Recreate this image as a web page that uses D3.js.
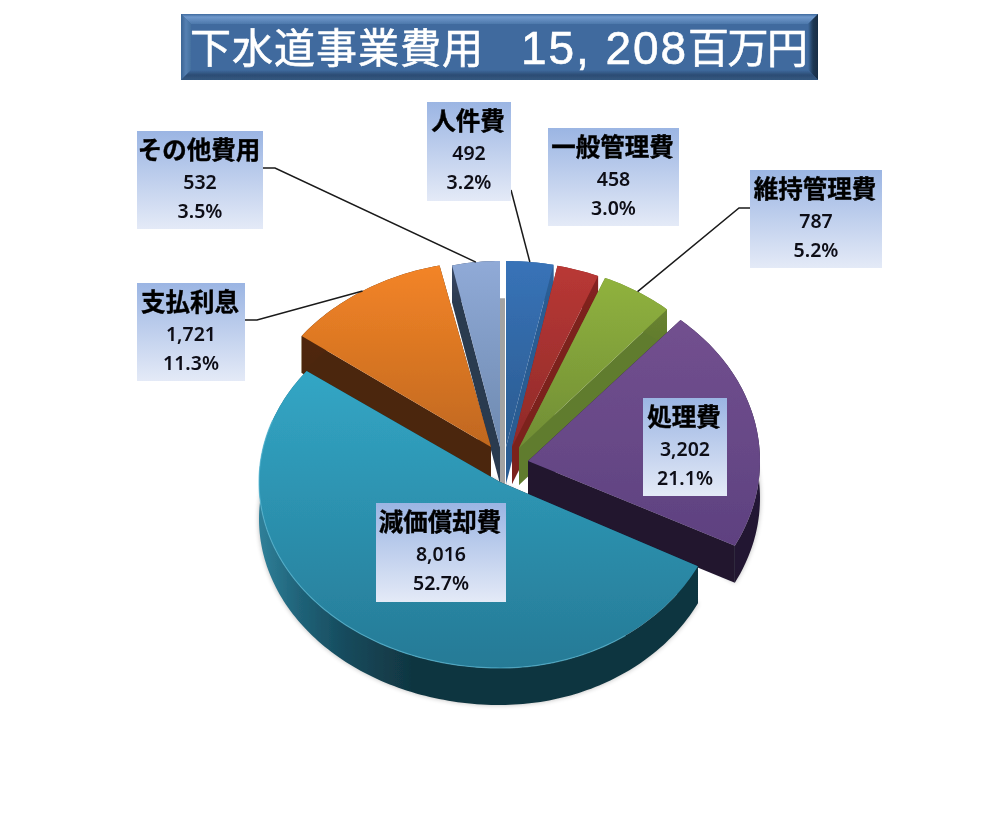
<!DOCTYPE html>
<html>
<head>
<meta charset="utf-8">
<title>下水道事業費用</title>
<script src="https://cdn.jsdelivr.net/npm/d3@7"></script>
<style>
  html, body { margin: 0; padding: 0; background: #fff; }
  svg { display: block; }
</style>
</head>
<body>
<div id="chart"></div>
<script>
// data, clockwise from 12 o'clock
var categories = ["人件費", "一般管理費", "維持管理費", "処理費", "減価償却費", "支払利息", "その他費用"];
var values = [492, 458, 787, 3202, 8016, 1721, 532];
var titleParts = ["下水道事業費用", "15, 208", "百万円"];

// layout, same order as categories
var sliceGeom = [
  { ax: 506, ay: 447, rl: 235, rr: 235, ry: 186 },
  { ax: 512, ay: 447, rl: 225, rr: 225, ry: 185 },
  { ax: 519, ay: 448, rl: 225, rr: 225, ry: 184 },
  { ax: 528, ay: 461, rl: 232, rr: 232, ry: 187 },
  { ax: 500, ay: 482, rl: 241, rr: 222, ry: 186 },
  { ax: 491, ay: 447, rl: 236, rr: 236, ry: 186 },
  { ax: 500, ay: 447, rl: 220, rr: 220, ry: 186 }
];
var labelBoxes = [
  { x: 427, y: 102, w: 84, h: 99 },
  { x: 548, y: 128, w: 131, h: 98 },
  { x: 750, y: 170, w: 132, h: 98 },
  { x: 643, y: 398, w: 84, h: 98 },
  { x: 376, y: 503, w: 130, h: 99 },
  { x: 137, y: 283, w: 108, h: 98 },
  { x: 137, y: 131, w: 126, h: 98 }
];
// leader start points at the box, null when the slice has no leader
var leaders = [
  [[511, 190]],
  null,
  [[750, 208], [739, 208]],
  null,
  null,
  [[245, 320], [257, 320]],
  [[263, 168], [275, 168]]
];
var topColors = [
  ["#3873b8", "#2a5b90"], ["#b93835", "#8f2a29"], ["#90b23e", "#708d35"], ["#72508f", "#5e4180"],
  ["#32a6c5", "#267a96"], ["#f38427", "#c0681f"], ["#90aad7", "#6e8ab0"]
];
var wallColors = [
  ["#2f639e", "#2a5c92"], ["#8a2422", "#7c201e"], ["#6f8a32", "#617b2e"], ["#2a1c40", "#20152f"],
  ["#2f8099", "#0e2f3a"], ["#5a2c0f", "#4c260b"], ["#3b4c69", "#2c3a50"]
];
var wallDepth = 37;

var svgWidth = 1000, svgHeight = 821;
var svg = d3.select("#chart").append("svg")
  .attr("width", svgWidth)
  .attr("height", svgHeight);
var defs = svg.append("defs");

defs.append("filter").attr("id", "soft")
  .append("feGaussianBlur").attr("stdDeviation", 0.45);
defs.append("filter").attr("id", "softText")
  .append("feGaussianBlur").attr("stdDeviation", 0.3);
var glow = defs.append("filter").attr("id", "shadow")
  .attr("x", "-5%").attr("y", "-5%").attr("width", "110%").attr("height", "110%");
glow.append("feGaussianBlur").attr("stdDeviation", 2.5);

function gradient(id, stops, x1, y1, x2, y2) {
  var g = defs.append("linearGradient").attr("id", id)
    .attr("x1", x1).attr("y1", y1).attr("x2", x2).attr("y2", y2);
  stops.forEach(function(s) {
    g.append("stop").attr("offset", s[0]).attr("stop-color", s[1]);
  });
}

topColors.forEach(function(c, i) {
  gradient("top" + i, [[0, c[0]], [1, c[1]]], 0, 0, 0, 1);
});
wallColors.forEach(function(c, i) {
  gradient("wall" + i, [[0, c[0]], [1, c[1]]], 0, 0, 0, 1);
});
// the big slice's rim gets its own shading, light on the left and dark by the middle
gradient("wallBig", [[0, "#2f8099"], [0.09, "#206379"], [0.2, "#164a5c"], [0.36, "#10343f"], [1, "#10343f"]], 0, 0, 1, 0);
gradient("boxFill", [[0, "#9bb5e3"], [1, "#e4eaf7"]], 0, 0, 0, 1);
gradient("bevelTop", [[0, "#3f6a9e"], [0.3, "#7099cc"], [1, "#4d78ab"]], 0, 0, 0, 1);
gradient("bevelBottom", [[0, "#3f6a9e"], [0.5, "#2c4c74"], [1, "#34577f"]], 0, 0, 0, 1);
gradient("bevelLeft", [[0, "#3a6494"], [0.5, "#5580b2"], [1, "#44709f"]], 0, 0, 1, 0);
gradient("bevelRight", [[0, "#3f6a9e"], [0.5, "#1f3855"], [1, "#182c44"]], 0, 0, 1, 0);

// title banner
var banner = { x: 181, y: 14, w: 637, h: 66, b: 10 };
var titleG = svg.append("g").attr("filter", "url(#soft)");
titleG.append("rect")
  .attr("x", banner.x).attr("y", banner.y)
  .attr("width", banner.w).attr("height", banner.h)
  .attr("fill", "#3f6a9e");
function bevel(points, fill) {
  titleG.append("polygon").attr("points", points.join(" ")).attr("fill", fill);
}
var bx0 = banner.x, bx1 = banner.x + banner.w, by0 = banner.y, by1 = banner.y + banner.h, bb = banner.b;
bevel([[bx0, by0], [bx1, by0], [bx1 - bb, by0 + bb], [bx0 + bb, by0 + bb]], "url(#bevelTop)");
bevel([[bx0, by0], [bx0 + bb, by0 + bb], [bx0 + bb, by1 - bb], [bx0, by1]], "url(#bevelLeft)");
bevel([[bx1 - bb, by0 + bb], [bx1, by0], [bx1, by1], [bx1 - bb, by1 - bb]], "url(#bevelRight)");
bevel([[bx0 + bb, by1 - bb], [bx1 - bb, by1 - bb], [bx1, by1], [bx0, by1]], "url(#bevelBottom)");

var titleLayout = [
  { x: 190, len: 293, font: "'Noto Sans CJK JP'", size: 41 },
  { x: 521, len: 165, font: "'Liberation Sans'", size: 46 },
  { x: 688, len: 120, font: "'Noto Sans CJK JP'", size: 41 }
];
titleG.selectAll("text.title")
  .data(titleParts)
  .enter().append("text")
  .attr("class", "title")
  .attr("x", function(d, i) { return titleLayout[i].x; })
  .attr("y", function(d, i) { return i === 1 ? 64 : 63; })
  .attr("textLength", function(d, i) { return titleLayout[i].len; })
  .style("font-family", function(d, i) { return titleLayout[i].font; })
  .style("font-size", function(d, i) { return titleLayout[i].size + "px"; })
  .attr("fill", "#fff")
  .attr("stroke", "#fff")
  .attr("stroke-width", 0.6)
  .text(function(d) { return d; });

// pie angles from the data
var pie = d3.pie().sort(null).value(function(d) { return d; });
var arcs = pie(values);

function project(i, angle, k) {
  var g = sliceGeom[i], s = Math.sin(angle);
  if (k === undefined) k = 1;
  return [g.ax + k * (s < 0 ? g.rl : g.rr) * s, g.ay - k * g.ry * Math.cos(angle)];
}
function arcPoints(i, a0, a1) {
  var n = Math.max(2, Math.ceil((a1 - a0) / 0.02));
  return d3.range(n + 1).map(function(j) {
    return project(i, a0 + (a1 - a0) * j / n);
  });
}
function drop(pts) {
  return pts.map(function(p) { return [p[0], p[1] + wallDepth]; });
}
var line = d3.line();
function closed(pts) { return line(pts) + "Z"; }
function apex(i) { return [sliceGeom[i].ax, sliceGeom[i].ay]; }

// back slices first, big slice last
var drawOrder = [6, 0, 1, 2, 5, 3, 4];
var pieG = svg.append("g").attr("filter", "url(#soft)");

// faint shadow under the rims
var bigArc = arcs[4];
pieG.append("path")
  .attr("d", closed(drop(arcPoints(4, bigArc.startAngle, bigArc.endAngle)).concat([apex(4)])))
  .attr("fill", "#000").attr("opacity", 0.28).attr("filter", "url(#shadow)");
var purpleArc = arcs[3];
pieG.append("path")
  .attr("d", closed(drop(arcPoints(3, purpleArc.startAngle, purpleArc.endAngle)).concat([apex(3)])))
  .attr("fill", "#000").attr("opacity", 0.28).attr("filter", "url(#shadow)");

drawOrder.forEach(function(i) {
  var a = arcs[i];
  var pts = arcPoints(i, a.startAngle, a.endAngle);
  var first = pts[0], last = pts[pts.length - 1], c = apex(i);
  var wallFill = i === 4 ? "url(#wallBig)" : "url(#wall" + i + ")";

  // side walls
  [first, last].forEach(function(p) {
    pieG.append("path")
      .attr("d", closed([c, p].concat(drop([p, c]))))
      .attr("fill", wallColors[i][1]);
  });
  // rim
  pieG.append("path")
    .attr("d", closed(pts.concat(drop(pts).reverse())))
    .attr("fill", wallFill);
  // top face
  pieG.append("path")
    .attr("class", "slice")
    .attr("d", closed([c].concat(pts)))
    .attr("fill", "url(#top" + i + ")");
  // grey sliver right of the small left slice
  if (i === 6) {
    var t = project(6, a.endAngle, 0.8);
    pieG.append("path")
      .attr("d", closed([t, [t[0] + 5, t[1]], [c[0] + 5, c[1] + wallDepth], [c[0], c[1] + wallDepth]]))
      .attr("fill", "#a3a3a3");
  }
});

// light edge along the big slice's rim
pieG.append("path")
  .attr("d", line(arcPoints(4, bigArc.startAngle + 0.5, bigArc.endAngle - 0.3)))
  .attr("fill", "none").attr("stroke", "#57b7d3").attr("stroke-width", 1.2).attr("opacity", 0.7);

// leader lines end at the middle of the slice's outer edge
var leaderG = svg.append("g");
leaders.forEach(function(l, i) {
  if (!l) return;
  var mid = (arcs[i].startAngle + arcs[i].endAngle) / 2;
  leaderG.append("path")
    .attr("d", line(l.concat([project(i, mid)])))
    .attr("fill", "none")
    .attr("stroke", "#1a1a1a")
    .attr("stroke-width", 1.5);
});

// data labels
var total = d3.sum(values);
var fmtValue = d3.format(",");
var fmtPct = d3.format(".1%");
var labels = svg.selectAll("g.label")
  .data(categories)
  .enter().append("g")
  .attr("class", "label")
  .attr("transform", function(d, i) { return "translate(" + labelBoxes[i].x + "," + labelBoxes[i].y + ")"; });
labels.append("rect")
  .attr("width", function(d, i) { return labelBoxes[i].w; })
  .attr("height", function(d, i) { return labelBoxes[i].h; })
  .attr("fill", "url(#boxFill)");
labels.append("text")
  .attr("x", function(d, i) { return labelBoxes[i].w / 2 - 1; })
  .attr("y", 28)
  .attr("text-anchor", "middle")
  .attr("filter", "url(#softText)")
  .style("font-family", "'Noto Sans CJK JP'")
  .style("font-weight", 700)
  .style("font-size", "24.5px")
  .attr("fill", "#000")
  .attr("stroke", "#000")
  .attr("stroke-width", 0.4)
  .text(function(d) { return d; });
[
  { y: 58, text: function(d, i) { return fmtValue(values[i]); } },
  { y: 87, text: function(d, i) { return fmtPct(values[i] / total); } }
].forEach(function(row) {
  labels.append("text")
    .attr("x", function(d, i) { return labelBoxes[i].w / 2; })
    .attr("y", row.y)
    .attr("text-anchor", "middle")
    .attr("filter", "url(#softText)")
    .style("font-family", "'Noto Sans'")
    .style("font-weight", 600)
    .style("font-size", "19.5px")
    .attr("fill", "#0b0b14")
    .text(row.text);
});
</script>
</body>
</html>
